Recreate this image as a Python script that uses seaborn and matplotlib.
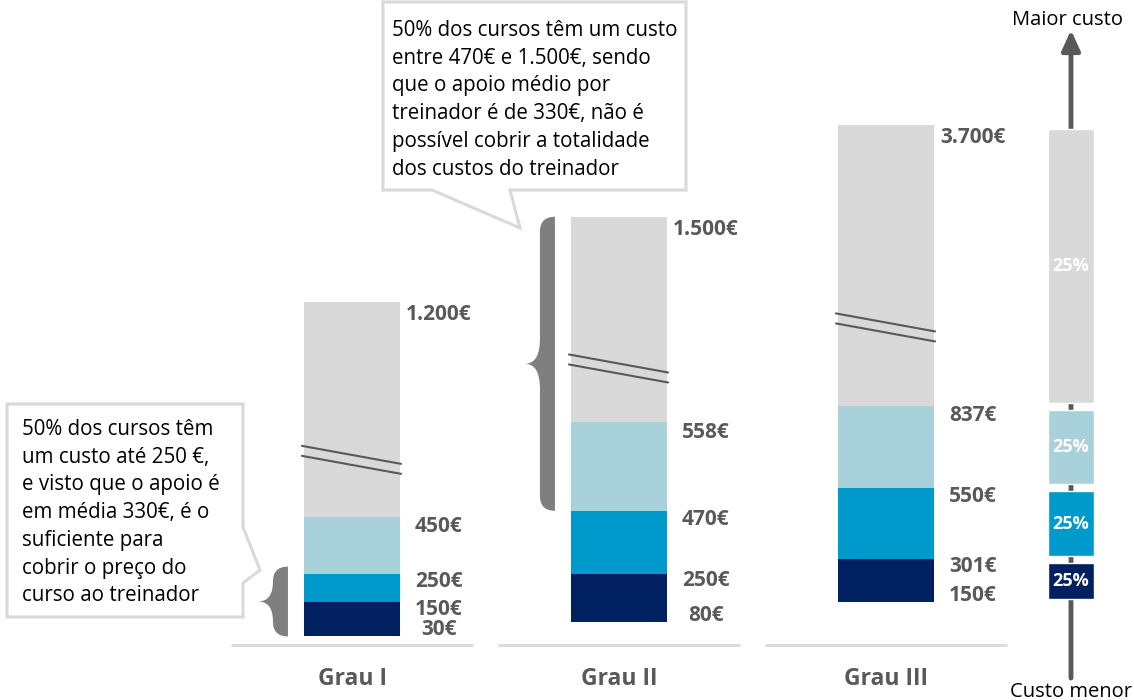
import numpy as np
import pandas as pd
import matplotlib
matplotlib.use("Agg")
import matplotlib.pyplot as plt
import matplotlib.transforms as mtransforms
from matplotlib.patches import Polygon, PathPatch
from matplotlib.path import Path
import seaborn as sns

# === Dados: custo dos cursos de treinador (€) ===
graus = ["Grau I", "Grau II", "Grau III"]
minimo = [30, 80, 150]
q1 = [150, 250, 301]
mediana = [250, 470, 550]
q3 = [450, 558, 837]
maximo = [1200, 1500, 3700]
# posicao desenhada (o eixo esta cortado, por isso alguns topos estao comprimidos)
q3_desenho = [450, 780, 837]
max_desenho = [1200, 1500, 1820]
quartis = ["25%", "25%", "25%", "25%"]

cores = ["#002060", "#0099cc", "#a9d1dc", "#d9d9d9"]
cinza = "#595959"


def eur(v):
    return f"{v:,}€".replace(",", ".")


sns.set_theme(style="white")
plt.rcParams["font.family"] = ["Open Sans", "DejaVu Sans"]

fig = plt.figure(figsize=(11.34, 7.0), dpi=100)
ax = fig.add_axes([0, 0, 1, 1])

df = pd.DataFrame({"grau": graus, "min": minimo, "q1": q1, "med": mediana,
                   "q3": q3_desenho, "max": max_desenho})
niveis = [("min", "q1"), ("q1", "med"), ("med", "q3"), ("q3", "max")]

# barras empilhadas
for (lo, hi), cor in zip(niveis, cores):
    sns.barplot(x=df["grau"], y=df[hi] - df[lo], bottom=df[lo], color=cor,
                width=0.36, saturation=1, errorbar=None, linewidth=0, ax=ax)

ax.set_xlim(-352 / 267, (1134 - 352) / 267)
ax.set_ylim(-55 / 0.2855, 645 / 0.2855)
ax.axis("off")
sx = np.diff(ax.get_xlim())[0] / 1134   # unidades x por pixel
sy = np.diff(ax.get_ylim())[0] / 700    # unidades y por pixel
bx = mtransforms.blended_transform_factory(ax.transData, ax.transAxes)

# linhas de base e nomes dos graus
for i, g in enumerate(graus):
    ax.plot([i - 0.455, i + 0.455], [0, 0], color="#d9d9d9", lw=2, solid_capstyle="butt")
    ax.text(i, 0.03, g, transform=bx, ha="center", va="center",
            fontsize=16.5, fontweight="bold", color=cinza)

# marcas de corte do eixo
for i in range(3):
    y_a = q3_desenho[i] + 0.33 * (max_desenho[i] - q3_desenho[i])
    xl, xr = i - 0.18 - 2 * sx, i + 0.18 + 1 * sx
    for k in range(2):
        y = y_a - k * 10 * sy
        ax.plot([xl, xr], [y, y - 18 * sy], color=cinza, lw=1.5, zorder=5)

# rotulos de valor
rotulos = [(maximo, max_desenho, -9), (q3, q3_desenho, -7), (mediana, mediana, -6),
           (q1, q1, -5), (minimo, minimo, 5)]
for i in range(3):
    for vals, pos, off in rotulos:
        ax.annotate(eur(vals[i]), (i + 0.325, pos[i]), xytext=(0, off),
                    textcoords="offset points", ha="center", va="center",
                    fontsize=15, fontweight="bold", color=cinza)


# chavetas
def chaveta(xc, y0, y1, extra_px=0, cor="#7f7f7f"):
    xr = xc - 0.18 - 16 * sx
    y1 = y1 + extra_px * sy
    w = d = 15 * sx
    r = 15 * sy
    ym = (y0 + y1) / 2
    h = min(25 * sy, (y1 - y0) / 2 - r)
    verts = [(xr, y1), (xr - w, y1), (xr - w, y1 - r), (xr - w, ym + h),
             (xr - w, ym), (xr - w - d, ym), (xr - w, ym), (xr - w, ym - h),
             (xr - w, y0 + r), (xr - w, y0), (xr, y0), (xr, y1), (xr, y1)]
    codes = [Path.MOVETO, Path.CURVE3, Path.CURVE3, Path.LINETO,
             Path.CURVE3, Path.CURVE3, Path.CURVE3, Path.CURVE3,
             Path.LINETO, Path.CURVE3, Path.CURVE3, Path.LINETO, Path.CLOSEPOLY]
    ax.add_patch(PathPatch(Path(verts, codes), facecolor=cor, edgecolor="none"))


chaveta(0, minimo[0], mediana[0], extra_px=7)
chaveta(1, mediana[1], max_desenho[1])

# escala de quartis a direita
xq = (1071 - 352) / 267
ax.annotate("", xy=(xq, 1 - 30 / 700), xytext=(xq, 1 - 678 / 700),
            xycoords=bx, textcoords=bx,
            arrowprops=dict(arrowstyle="-|>,head_width=0.25,head_length=0.55",
                            color=cinza, lw=3.5, mutation_scale=22, shrinkA=0, shrinkB=0))
limites = [minimo[2], q1[2], mediana[2], q3_desenho[2], max_desenho[2]]
for k, (cor, txt) in enumerate(zip(cores, quartis)):
    lo, hi = limites[k] + 3.5 * sy, limites[k + 1] - 3.5 * sy
    ax.bar(xq, hi - lo, bottom=lo, width=46 * sx, color=cor, zorder=3)
    ax.text(xq, (lo + hi) / 2, txt, ha="center", va="center", color="white",
            fontsize=13, fontweight="bold", zorder=4)
ax.text(xq - 4 * sx, 1 - 20 / 700, "Maior custo", transform=bx, ha="center",
        va="center", fontsize=14.5, color="black")
ax.text(xq, 1 - 692 / 700, "Custo menor", transform=bx, ha="center",
        va="center", fontsize=14.5, color="black")

# caixas de comentario (coordenadas em pixels da imagem)
tp = mtransforms.Affine2D().scale(1 / 1134, -1 / 700).translate(0, 1) + fig.transFigure
caixa_cima = [(383, 2), (686, 2), (686, 190), (510, 190), (520, 228), (432, 190), (383, 190)]
caixa_esq = [(7, 404), (243, 404), (243, 527), (260, 570), (243, 583), (243, 617), (7, 617)]
for pts in (caixa_cima, caixa_esq):
    fig.add_artist(Polygon(pts, closed=True, transform=tp, facecolor="white",
                           edgecolor="#d9d9d9", lw=2.2, joinstyle="miter"))

txt_cima = ("50% dos cursos têm um custo\nentre 470€ e 1.500€, sendo\n"
            "que o apoio médio por\ntreinador é de 330€, não é\n"
            "possível cobrir a totalidade\ndos custos do treinador")
txt_esq = ("50% dos cursos têm\num custo até 250 €,\ne visto que o apoio é\n"
           "em média 330€, é o\nsuficiente para\ncobrir o preço do\ncurso ao treinador")
fig.text(392, 20, txt_cima, transform=tp, ha="left", va="top", fontsize=14.8,
         linespacing=1.42, color="black")
fig.text(22, 419, txt_esq, transform=tp, ha="left", va="top", fontsize=14.8,
         linespacing=1.42, color="black")

fig.savefig("out.png", dpi=100)
